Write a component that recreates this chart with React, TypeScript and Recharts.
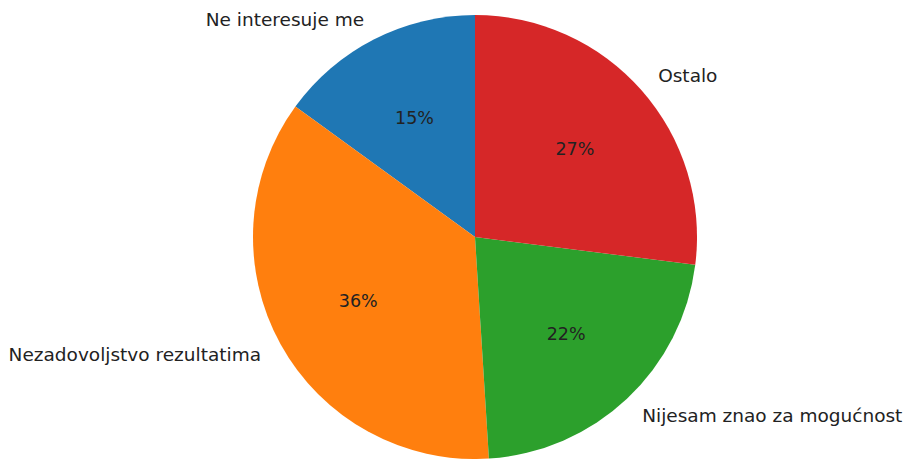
import { PieChart, Pie, Cell } from 'recharts';

const names = ['Ne interesuje me', 'Nezadovoljstvo rezultatima', 'Nijesam znao za mogućnost', 'Ostalo'];
const values = [15, 36, 22, 27];
const colors = ['#1f77b4', '#ff7f0e', '#2ca02c', '#d62728'];

const data = names.map((name, i) => ({ name, value: values[i] }));

const RADIAN = Math.PI / 180;

function renderLabel(props: any) {
  const { cx, cy, midAngle, outerRadius, name, percent } = props;
  const cos = Math.cos(-midAngle * RADIAN);
  const sin = Math.sin(-midAngle * RADIAN);
  const lx = cx + outerRadius * 1.1 * cos;
  const ly = cy + outerRadius * 1.1 * sin;
  const px = cx + outerRadius * 0.6 * cos;
  const py = cy + outerRadius * 0.6 * sin;
  return (
    <g>
      <text x={lx} y={ly} textAnchor={cos >= 0 ? 'start' : 'end'} dominantBaseline="central"
        fill="#222" fontSize={18.5} fontFamily="DejaVu Sans">
        {name}
      </text>
      <text x={px} y={py} textAnchor="middle" dominantBaseline="central"
        fill="#222" fontSize={17.5} fontFamily="DejaVu Sans">
        {`${Math.round(percent * 100)}%`}
      </text>
    </g>
  );
}

export default function App() {
  return (
    <div style={{ width: 904, height: 459, background: '#fff' }}>
      <style>{`body{margin:0}`}</style>
      <PieChart width={904} height={459} margin={{ top: 0, right: 0, bottom: 0, left: 0 }}>
        <Pie
          data={data}
          dataKey="value"
          nameKey="name"
          cx={475}
          cy={237}
          outerRadius={222}
          startAngle={90}
          endAngle={450}
          stroke="none"
          labelLine={false}
          label={renderLabel}
          isAnimationActive={false}
        >
          {data.map((entry, index) => (
            <Cell key={`cell-${index}`} fill={colors[index]} />
          ))}
        </Pie>
      </PieChart>
    </div>
  );
}
